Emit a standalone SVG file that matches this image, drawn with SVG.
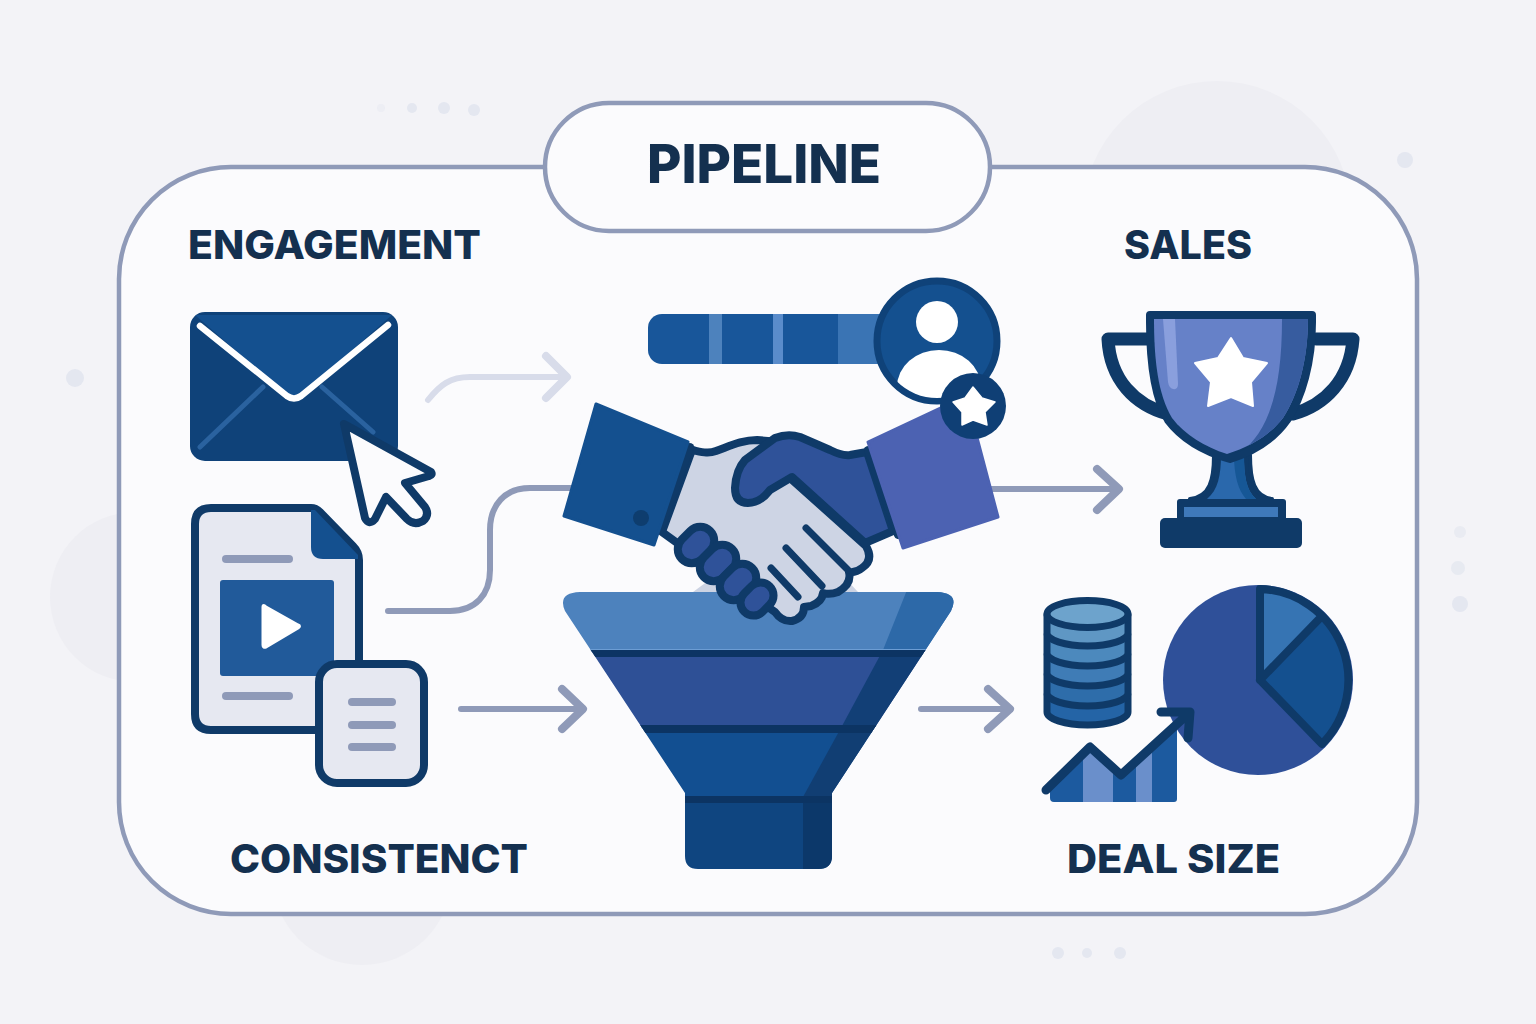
<svg xmlns="http://www.w3.org/2000/svg" width="1536" height="1024" viewBox="0 0 1536 1024">
<style>
.lbl{font-family:"Inter","Liberation Sans",sans-serif;font-weight:800;fill:#14304f}
.conn{fill:none;stroke:#8f9ab8;stroke-width:6;stroke-linecap:round;stroke-linejoin:round}
.head{stroke-width:8}
.faint{stroke:#d8dcea}
.nv{stroke:#0f3a68;stroke-linejoin:round;stroke-linecap:round}
.gl{fill:#8f9ab8}
.dec{fill:#e4e7f0}
.blob{fill:#eeeef3}
</style>
<defs>
<clipPath id="userClip"><circle cx="937" cy="341" r="57"/></clipPath>
<clipPath id="chartClip"><path d="M1050,787 L1090,747 L1121,775 L1177,722 V799 Q1177,802 1174,802 H1054 Q1050,802 1050,798 Z"/></clipPath>
<clipPath id="funnelClip"><path d="M580,592 H937 Q960,593 951,611 L832,793 V856 Q832,869 818,869 H698 Q685,869 685,856 V793 L565,611 Q557,593 580,592 Z"/></clipPath>
<clipPath id="cupClip"><path d="M1154,319 C1154,360 1158,395 1172,418 C1185,435 1205,447 1227,454 C1250,447 1270,435 1283,418 C1298,395 1308,360 1308,319 Z"/></clipPath>
</defs>
<rect width="1536" height="1024" fill="#f3f3f7"/>
<g id="background">
<circle class="blob" cx="1217" cy="215" r="134"/>
<circle class="blob" cx="135" cy="597" r="85"/>
<circle class="blob" cx="362" cy="875" r="90"/>
<circle class="dec" cx="75" cy="378" r="9"/><circle class="dec" cx="1405" cy="160" r="8"/>
<circle class="dec" cx="1460" cy="532" r="6" opacity=".7"/><circle class="dec" cx="1458" cy="568" r="7" opacity=".85"/><circle class="dec" cx="1460" cy="604" r="8"/>
<circle class="dec" cx="1058" cy="953" r="6"/><circle class="dec" cx="1087" cy="953" r="5"/><circle class="dec" cx="1120" cy="953" r="6"/>
<circle class="dec" cx="381" cy="108" r="4" opacity=".4"/><circle class="dec" cx="412" cy="108" r="5"/><circle class="dec" cx="444" cy="108" r="6"/><circle class="dec" cx="474" cy="110" r="6"/>
</g>
<g id="frame"><rect x="119" y="167" width="1298" height="747" rx="112" fill="#fbfbfd" stroke="#8f9ab8" stroke-width="4.500"/></g>
<g id="connectors">
<path class="conn faint" d="M428,400 C440,385 450,377 470,377 H565"/><path class="conn faint head" d="M546,356 L567,377 L546,398"/>
<path class="conn" d="M388,611 H450 C475,611 490,595 490,570 V530 C490,505 505,488 530,488 H575"/>
<path class="conn" d="M461,709 H581"/><path class="conn head" d="M562,689 L583,709 L562,729"/>
<path class="conn" d="M990,489 H1117"/><path class="conn head" d="M1097,469 L1119,489 L1097,510"/>
<path class="conn" d="M921,709 H1008"/><path class="conn head" d="M988,689 L1010,709 L988,729"/>
</g>
<g id="title"><rect x="545" y="103" width="445" height="128" rx="64" fill="#fbfbfd" stroke="#8f9ab8" stroke-width="4.500"/>
<text class="lbl" x="647" y="183" font-size="54" textLength="234" lengthAdjust="spacingAndGlyphs">PIPELINE</text></g>
<g id="label-engagement"><text class="lbl" x="188" y="259" font-size="40" textLength="293" lengthAdjust="spacingAndGlyphs">ENGAGEMENT</text></g>
<g id="label-sales"><text class="lbl" x="1124" y="259" font-size="40" textLength="128" lengthAdjust="spacingAndGlyphs">SALES</text></g>
<g id="label-consistenct"><text class="lbl" x="230" y="873" font-size="40" textLength="298" lengthAdjust="spacingAndGlyphs">CONSISTENCT</text></g>
<g id="label-deal-size"><text class="lbl" x="1067" y="873" font-size="40" textLength="213" lengthAdjust="spacingAndGlyphs">DEAL SIZE</text></g>
<g id="envelope">
<rect x="190" y="312" width="208" height="149" rx="15" fill="#0f4279"/>
<path d="M195,315 H392 L298,398 Q294,401 290,398 Z" fill="#14508f"/>
<path d="M200,447 L263,387 M322,387 L373,432" stroke="#2a629f" stroke-width="5" stroke-linecap="round" fill="none"/>
<path d="M200,326 L287,396 Q294,401 301,396 L388,325" stroke="#fff" stroke-width="6.500" fill="none" stroke-linecap="round" stroke-linejoin="round"/>
</g>
<g id="cursor"><path class="nv" fill="#fbfbfd" stroke-width="8" d="M344,424 L431,472 Q433,475 429,476 L405,483 L425,507 Q430,515 423,521 Q414,526 407,519 L386,497 L375,519 Q369,526 365,518 Z"/></g>
<g id="document">
<path class="nv" fill="#e6e8f1" stroke-width="8" d="M211,508 H311 Q316,508 320,512 L353,546 Q359,552 359,560 V730 H211 Q195,730 195,714 V524 Q195,508 211,508 Z"/>
<path d="M311,510 L315,510 L358,555 V559 H323 Q311,559 311,547 Z" fill="#14508f"/>
<rect class="gl" x="222" y="555" width="71" height="8" rx="4"/>
<rect x="220" y="580" width="114" height="96" rx="3" fill="#215a9a"/>
<path d="M266,607 L298,625 Q301,626 298,628 L266,647 Q263,648 263,645 V607 Q263,604 266,607 Z" fill="#fff" stroke="#fff" stroke-width="3" stroke-linejoin="round"/>
<rect class="gl" x="222" y="692" width="71" height="8" rx="4"/>
</g>
<g id="small-document">
<rect class="nv" x="319" y="664" width="105" height="119" rx="18" fill="#e6e8f1" stroke-width="8"/>
<rect class="gl" x="348" y="698" width="48" height="8" rx="4"/>
<rect class="gl" x="348" y="721" width="48" height="8" rx="4"/>
<rect class="gl" x="348" y="743" width="48" height="8" rx="4"/>
</g>
<g id="funnel">
<path d="M693,592 L712,578 H845 L858,592 Z" fill="#ccd3e3"/>
<g clip-path="url(#funnelClip)">
<rect x="550" y="590" width="420" height="62" fill="#4d82bd"/>
<rect x="550" y="650" width="420" height="78" fill="#2e5096"/>
<rect x="550" y="726" width="420" height="72" fill="#124f91"/>
<rect x="550" y="796" width="420" height="80" fill="#0f4580"/>
<path d="M907,590 H970 V650 H883 Z" fill="#2d69a8"/>
<path d="M883,650 H970 V726 H842 Z" fill="#123f76"/>
<path d="M842,726 H970 V797 H803 Z" fill="#113e73"/>
<path d="M803,797 H970 V880 H803 Z" fill="#0c386a"/>
<rect x="550" y="649" width="420" height="1.500" fill="#6c9dd4"/>
<rect x="550" y="650" width="420" height="7" fill="#0c3463"/>
<rect x="550" y="725" width="420" height="8" fill="#0c3463"/>
<rect x="550" y="796" width="420" height="7" fill="#0c3463"/>
</g>
</g>
<g id="handshake">
<path class="nv" fill="#cdd4e4" stroke-width="8" d="M692,450 C702,452 708,454 716,451 C730,446 742,440 757,440 L780,442 L790,478 L866,546 Q874,560 862,568 Q856,573 849,572 Q852,584 838,592 Q830,595 823,593 Q822,602 811,606 L804,607 Q804,618 792,621 Q782,622 775,612 L680,545 L662,532 Z"/>
<path class="nv" fill="none" stroke-width="7" d="M806,528 L848,570 M786,548 L822,586 M771,568 L798,597"/>
<g class="nv" fill="#2f5299" stroke-width="8">
<rect x="-20" y="-14" width="40" height="28" rx="14" transform="translate(696,545) rotate(-45)"/>
<rect x="-20" y="-14" width="40" height="28" rx="14" transform="translate(718,563) rotate(-45)"/>
<rect x="-20" y="-14" width="40" height="28" rx="14" transform="translate(738,582) rotate(-45)"/>
<rect x="-18" y="-13" width="36" height="26" rx="13" transform="translate(757,599) rotate(-45)"/>
</g>
<path class="nv" fill="#2f5299" stroke-width="8" d="M867,452 L850,455 Q842,456 830,450 L800,437 Q788,433 775,438 L745,460 Q736,470 735,488 Q735,503 748,503 Q760,503 770,490 L792,477 L865,543 L893,531 Z"/>
<path class="nv" fill="none" stroke-width="8" d="M690,447 L660,530 M868,450 L898,535"/>
<path d="M596,404 L688,442 L654,545 L564,516 Z" fill="#14508f" stroke="#14508f" stroke-width="3" stroke-linejoin="round"/>
<circle cx="641" cy="518" r="8" fill="#0e3d6e"/>
<path d="M868,442 L966,396 L998,517 L903,548 Z" fill="#4c62b2" stroke="#4c62b2" stroke-width="3" stroke-linejoin="round"/>
</g>
<g id="progress-bar">
<rect x="648" y="314" width="240" height="50" rx="14" fill="#18569a"/>
<rect x="709" y="314" width="13" height="50" fill="#4d82bd"/>
<rect x="773" y="314" width="10" height="50" fill="#5a8ccb"/>
<rect x="838" y="314" width="50" height="50" fill="#3a74b4"/>
</g>
<g id="user-badge">
<circle cx="937" cy="341" r="60" fill="#14508f" stroke="#0f4279" stroke-width="7"/>
<circle cx="937" cy="322" r="21" fill="#fff"/>
<g clip-path="url(#userClip)"><ellipse cx="939" cy="387" rx="42" ry="37" fill="#fff"/></g>
<circle cx="973" cy="406" r="33" fill="#0f3f75"/>
<path d="M973,387 L982,398 L995,402 L985,412 L987,425 L973,420 L962,425 L962,412 L953,402 L965,398 Z" fill="#fff" stroke="#fff" stroke-width="1.500" stroke-linejoin="round"/>
</g>
<g id="trophy">
<path class="nv" fill="none" stroke-width="13" d="M1147,339 H1108 C1110,380 1135,405 1168,414 M1316,339 H1353 C1350,380 1325,405 1293,414"/>
<path class="nv" fill="#0f3a68" stroke-width="4" d="M1214,455 C1214,480 1210,497 1190,499 H1272 C1254,497 1250,480 1250,455 Z"/>
<path d="M1221,455 C1221,475 1218,490 1207,499 H1256 C1246,490 1244,475 1244,455 Z" fill="#2a68ac"/>
<path d="M1234,455 C1234,475 1238,490 1246,499 H1256 C1246,490 1244,475 1244,455 Z" fill="#165796"/>
<rect x="1177" y="499" width="109" height="24" rx="3" fill="#0f3a68"/>
<rect x="1184" y="507" width="94" height="10" fill="#3f79ba"/>
<rect x="1160" y="518" width="142" height="30" rx="5" fill="#0f3a68"/>
<path class="nv" fill="#0f3a68" stroke-width="8" d="M1150,315 H1312 V322 C1312,362 1302,397 1287,420 C1273,440 1252,452 1230,459 C1206,452 1183,440 1168,420 C1154,397 1150,362 1150,322 Z"/>
<g clip-path="url(#cupClip)">
<rect x="1150" y="315" width="165" height="145" fill="#6681c8"/>
<path d="M1282,319 H1312 V460 H1230 C1265,440 1282,400 1282,319 Z" fill="#375c9f"/>
<path d="M1163,319 H1175 L1178,384 Q1178,390 1173,389 Q1169,388 1168,382 Z" fill="#8a9fdd"/>
</g>
<path d="M1231,338 L1243,358 L1267,363 L1251,382 L1253,406 L1231,397 L1208,406 L1211,382 L1195,363 L1218,358 Z" fill="#fff" stroke="#fff" stroke-width="2" stroke-linejoin="round"/>
</g>
<g id="database">
<g class="nv" stroke-width="7">
<path fill="#2464a6" d="M1047,695 V712 A40.500,13 0 0 0 1128,712 V695 Z"/>
<path fill="#2e6daa" d="M1047,675 V693 A40.500,13 0 0 0 1128,693 V675 Z"/>
<path fill="#3f7cb6" d="M1047,655 V673 A40.500,13 0 0 0 1128,673 V655 Z"/>
<path fill="#4c89bd" d="M1047,635 V653 A40.500,13 0 0 0 1128,653 V635 Z"/>
<path fill="#5f97c4" d="M1047,615 V633 A40.500,13 0 0 0 1128,633 V615 Z"/>
<ellipse fill="#6da3cc" cx="1087.500" cy="614" rx="40.500" ry="13.500"/>
</g>
</g>
<g id="pie-chart">
<circle cx="1258" cy="680" r="95" fill="#2f5099"/>
<path d="M1260,680 L1322,744 A91,91 0 0 0 1322,616 Z" fill="#14508f"/>
<path d="M1260,680 V589 A91,91 0 0 1 1322,616 Z" fill="#3674b3"/>
<path class="nv" fill="none" stroke-width="8" d="M1322,744 L1260,680 L1322,616 M1260,680 V589 A91,91 0 0 1 1322,744"/>
</g>
<g id="growth-chart">
<g clip-path="url(#chartClip)">
<rect x="1050" y="700" width="33" height="105" fill="#1c5a9f"/>
<rect x="1083" y="700" width="30" height="105" fill="#6a8fcb"/>
<rect x="1113" y="700" width="23" height="105" fill="#1c5a9f"/>
<rect x="1136" y="700" width="16" height="105" fill="#6a8fcb"/>
<rect x="1152" y="700" width="25" height="105" fill="#1c5a9f"/>
</g>
<path class="nv" fill="none" stroke-width="9" d="M1046,790 L1090,747 L1121,775 L1188,714 M1161,712 H1190 L1188,738"/>
</g>
</svg>
